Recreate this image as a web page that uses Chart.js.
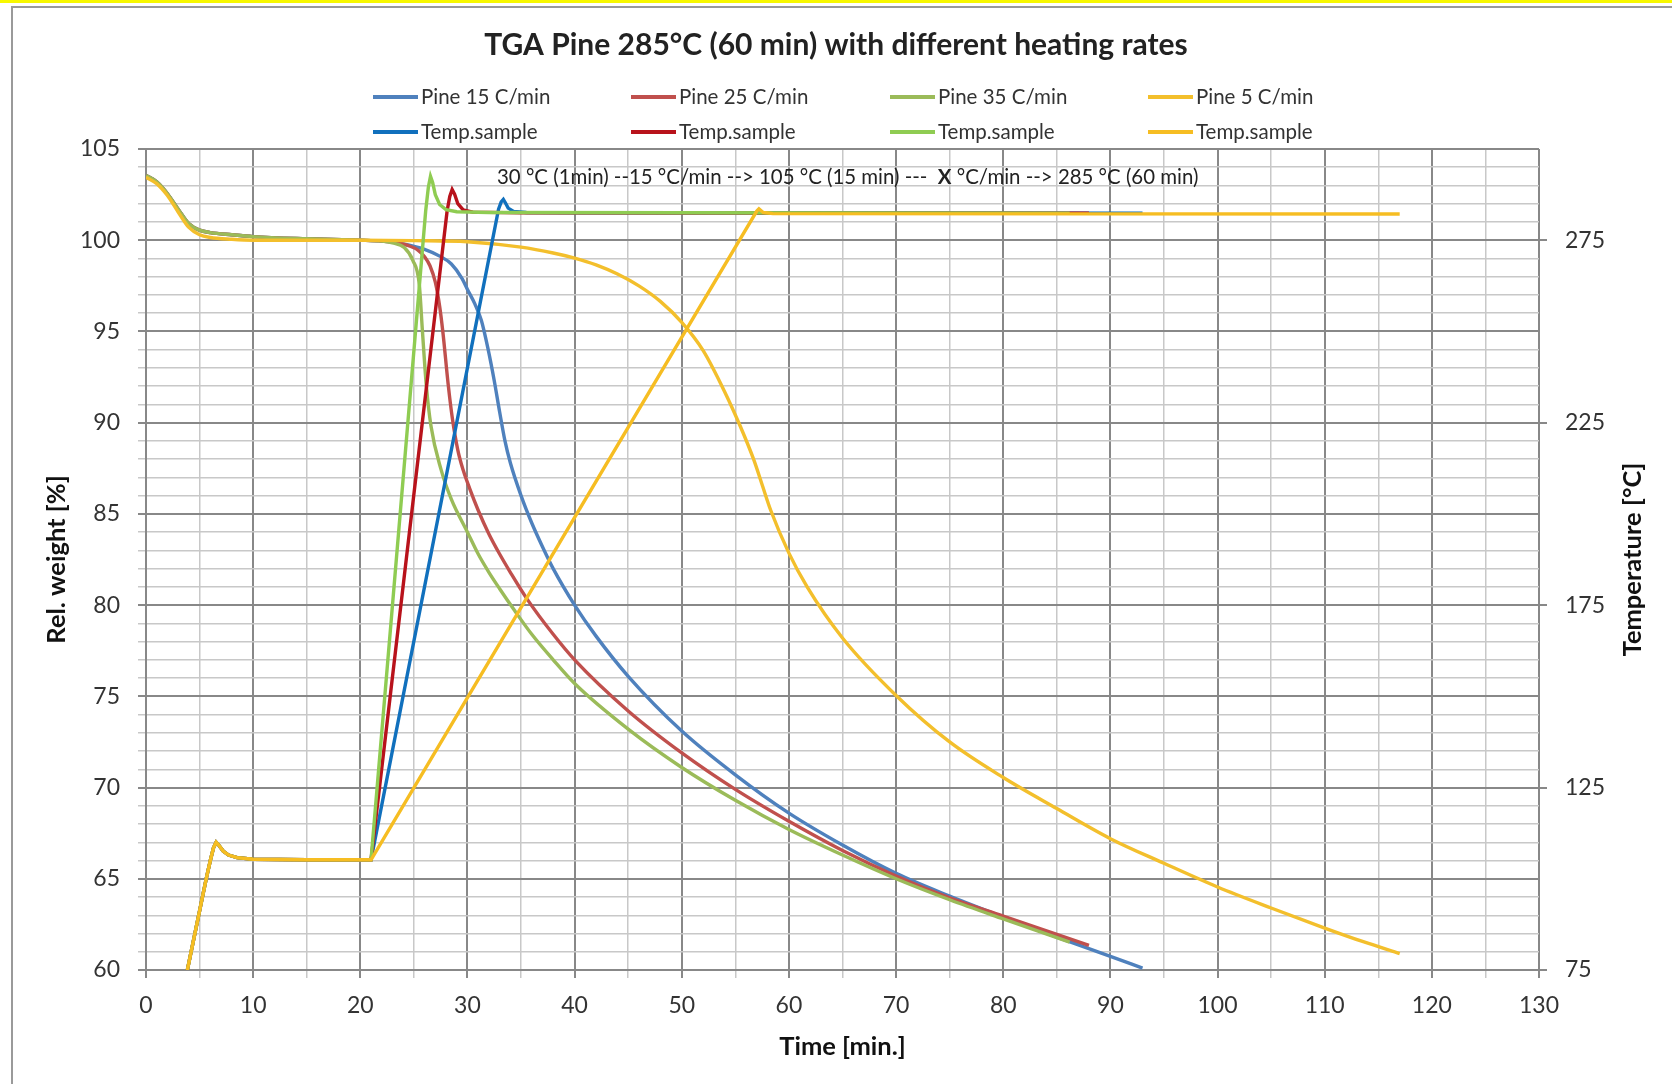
<!DOCTYPE html>
<html>
<head>
<meta charset="utf-8">
<title>TGA Pine 285°C (60 min) with different heating rates</title>
<script src="https://cdn.jsdelivr.net/npm/chart.js@4.4.1/dist/chart.umd.min.js"></script>
<style>
    html, body { margin: 0; padding: 0; background: #fff; }
    body { width: 1672px; height: 1084px; position: relative; overflow: hidden; }
    #topband { position: absolute; left: 0; top: 0; width: 1672px; height: 3px; background: #f8f800; }
    #frame { position: absolute; left: 11px; top: 6px; width: 1700px; height: 1200px; border: 2px solid #9a9a9a; box-sizing: border-box; }
    #chart { position: absolute; left: 0; top: 0; }
</style>
</head>
<body>
<div id="topband"></div>
<div id="frame"></div>
<canvas id="chart" width="1672" height="1084"></canvas>
<script>
// --- data (time in min, weight in %, temperature in °C) ---
const pine15Time = [0, 1, 2, 3, 4, 5, 6, 8, 10, 15, 20, 22, 24, 26, 27.5, 28.5, 29.5, 30, 30.7, 31.3, 31.9, 32.5, 33, 33.5, 34, 35, 36, 37, 38, 40, 42, 45, 50, 55, 60, 65, 70, 75, 80, 85, 90, 93];
const pine15Weight = [103.55, 103.2, 102.55, 101.7, 100.9, 100.55, 100.42, 100.3, 100.2, 100.08, 100, 99.95, 99.8, 99.5, 99.1, 98.7, 97.9, 97.3, 96.5, 95.6, 94.1, 92.3, 90.6, 89, 87.8, 86, 84.5, 83.2, 82, 80, 78.3, 76.1, 73.1, 70.7, 68.6, 66.85, 65.3, 64.05, 62.9, 61.8, 60.75, 60.1];

const pine25Time = [0, 1, 2, 3, 4, 5, 6, 8, 10, 15, 20, 22, 23.5, 24.5, 25.4, 26, 26.5, 27, 27.4, 27.7, 28.2, 28.6, 29.1, 29.6, 30.2, 31, 32, 33, 34, 35.6, 38, 40, 45, 50, 55, 60, 65, 70, 75, 80, 85, 88];
const pine25Weight = [103.55, 103.2, 102.55, 101.7, 100.9, 100.55, 100.42, 100.3, 100.2, 100.08, 100, 99.95, 99.85, 99.7, 99.45, 99.1, 98.6, 97.7, 96.4, 95, 92.1, 90.2, 88.5, 87.4, 86.4, 85.2, 83.9, 82.8, 81.8, 80.3, 78.4, 77, 74.2, 71.9, 69.9, 68.15, 66.55, 65.15, 63.95, 62.95, 61.95, 61.35];

const pine35Time = [0, 1, 2, 3, 4, 5, 6, 8, 10, 15, 20, 22, 23, 24.1, 24.9, 25.5, 25.8, 26.15, 26.6, 27.55, 28.5, 30, 31, 32, 33, 34.4, 36, 38, 40, 45, 50, 55, 60, 65, 70, 75, 80, 86.2];
const pine35Weight = [103.55, 103.2, 102.55, 101.7, 100.9, 100.55, 100.42, 100.3, 100.2, 100.08, 100, 99.95, 99.85, 99.6, 98.9, 97.6, 95, 92.1, 89.8, 87.4, 85.8, 84, 82.8, 81.8, 80.9, 79.7, 78.4, 77, 75.7, 73.2, 71.1, 69.3, 67.7, 66.3, 65, 63.85, 62.8, 61.53];

const pine5Time = [0, 1, 2, 3, 4, 5, 6, 8, 10, 15, 20, 25, 30, 35, 38, 40, 42, 44, 46, 48, 50, 52, 54, 55.5, 56.7, 57.5, 58.3, 60, 61.7, 65, 70, 75, 80, 85, 90, 95, 100, 105, 110, 113.6, 117];
const pine5Weight = [103.45, 103.1, 102.45, 101.55, 100.7, 100.3, 100.15, 100.05, 100, 100, 100, 99.98, 99.92, 99.62, 99.3, 99.02, 98.65, 98.15, 97.5, 96.65, 95.5, 93.95, 91.7, 89.75, 88, 86.6, 85.2, 82.85, 81, 78.2, 75.05, 72.5, 70.55, 68.85, 67.2, 65.85, 64.55, 63.4, 62.3, 61.55, 60.9];

// common start of the temperature program: 30 °C (1 min), 15 °C/min to 105 °C, hold
const tempHoldTime = [0, 1, 3.86, 5.62, 6, 6.3, 6.55, 6.8, 7.2, 7.7, 8.5, 10, 15, 21];
const tempHoldC = [30, 30, 75, 100, 105, 108.5, 110, 109.2, 107.6, 106.5, 105.8, 105.35, 105.2, 105.2];

const temp15Time = [32.9, 33.15, 33.35, 33.55, 33.8, 34.3, 35.5, 40, 93];
const temp15C = [283.5, 285.5, 286.2, 285.2, 283.8, 282.9, 282.6, 282.5, 282.4];
const temp25Time = [28.1, 28.35, 28.57, 28.8, 29.1, 29.6, 30.5, 35, 88];
const temp25C = [283, 287, 288.9, 287.6, 285, 283.3, 282.7, 282.5, 282.4];
const temp35Time = [26.1, 26.35, 26.55, 26.75, 27, 27.4, 28, 29, 32, 86.2];
const temp35C = [283, 289.5, 292.5, 290.8, 287.5, 284.8, 283.4, 282.8, 282.6, 282.4];
const temp5Time = [57, 57.2, 57.6, 58.5, 117];
const temp5C = [283, 283.6, 282.6, 282.3, 282.2];

const tempTicks = [75, 125, 175, 225, 275];

const titleText = 'TGA Pine 285°C (60 min) with different heating rates';
const noteParts = [['30 °C (1min) --15 °C/min --> 105 °C (15 min) ---  ', false], ['X', true], [' °C/min --> 285 °C (60 min)', false]];
const noteAt = [32.76, 103.42];

// --- layout ---
const legendCols = [373, 631, 890, 1148];
const legendRows = [97, 132];
const FONT = 'Lato';
const MAJOR = '#888888';
const MINOR = '#c8c8c8';

const toPoints = (xs, ys) => xs.map((x, i) => ({ x, y: ys[i] }));

const weightSet = (label, xs, ys, color) => ({
    label, data: toPoints(xs, ys), borderColor: color, backgroundColor: color, yAxisID: 'y',
    cubicInterpolationMode: 'monotone'
});
// temperature program: straight ramps, so no spline
const tempSet = (xs, ys, color) => ({
    label: 'Temp.sample',
    data: toPoints(tempHoldTime.concat(xs), tempHoldC.concat(ys)),
    borderColor: color, backgroundColor: color, yAxisID: 'y1',
    tension: 0
});

const datasets = [
    weightSet('Pine 15 C/min', pine15Time, pine15Weight, '#4f81bd'),
    weightSet('Pine 25 C/min', pine25Time, pine25Weight, '#c0504d'),
    weightSet('Pine 35 C/min', pine35Time, pine35Weight, '#9bbb59'),
    weightSet('Pine 5 C/min', pine5Time, pine5Weight, '#f3bf2c'),
    tempSet(temp15Time, temp15C, '#1170bd'),
    tempSet(temp25Time, temp25C, '#b8121b'),
    tempSet(temp35Time, temp35C, '#8fcc52'),
    tempSet(temp5Time, temp5C, '#f6bd22')
];
// excel draws later series on top
datasets.forEach((ds, i) => { ds.order = -i; });

const isMajor = (c, step) => c.tick && Math.abs(c.tick.value % step) < 1e-6;
const gridStyle = (step) => ({
    color: c => (isMajor(c, step) ? MAJOR : MINOR),
    tickColor: c => (isMajor(c, step) ? MAJOR : MINOR),
    lineWidth: c => (isMajor(c, step) ? 2 : 1.5),
    tickLength: 8
});

const tgaDecor = {
    id: 'tgaDecor',
    afterDraw(chart) {
        const { ctx } = chart;
        ctx.save();
        ctx.textBaseline = 'middle';
        ctx.textAlign = 'left';

        // legend, 4 columns x 2 rows like the excel one
        chart.data.datasets.forEach((ds, i) => {
            const x = legendCols[i % 4];
            const y = legendRows[Math.floor(i / 4)];
            ctx.strokeStyle = ds.borderColor;
            ctx.lineWidth = 4;
            ctx.beginPath();
            ctx.moveTo(x, y);
            ctx.lineTo(x + 45, y);
            ctx.stroke();
            ctx.fillStyle = '#333';
            ctx.font = `20.5px ${FONT}`;
            ctx.fillText(ds.label, x + 48, y);
        });

        // program note inside the plot
        let nx = chart.scales.x.getPixelForValue(noteAt[0]);
        const ny = chart.scales.y.getPixelForValue(noteAt[1]);
        noteParts.forEach(([text, bold]) => {
            ctx.font = `${bold ? 'bold ' : ''}20.4px ${FONT}`;
            ctx.fillStyle = '#222';
            ctx.fillText(text, nx, ny);
            nx += ctx.measureText(text).width;
        });

        // right axis title reads bottom-to-top
        const y1 = chart.scales.y1;
        ctx.translate(1633, (y1.top + y1.bottom) / 2);
        ctx.rotate(-Math.PI / 2);
        ctx.textAlign = 'center';
        ctx.font = `bold 25.5px ${FONT}`;
        ctx.fillStyle = '#111';
        ctx.fillText('Temperature [°C]', 0, 0);
        ctx.restore();
    }
};

const draw = () => {
    new Chart(document.getElementById('chart'), {
        type: 'line',
        data: { datasets },
        options: {
            responsive: false,
            animation: false,
            devicePixelRatio: 1,
            layout: { padding: 0 },
            elements: {
                point: { radius: 0 },
                line: { borderWidth: 3.4 }
            },
            plugins: {
                legend: { display: false },
                tooltip: { enabled: false },
                title: {
                    display: true,
                    text: titleText,
                    color: '#222',
                    font: { family: FONT, size: 30, weight: 'bold' },
                    padding: { top: 27, bottom: 86 }
                }
            },
            scales: {
                x: {
                    type: 'linear',
                    min: 0,
                    max: 130,
                    grid: gridStyle(10),
                    border: { color: MAJOR, width: 2 },
                    ticks: {
                        stepSize: 5,
                        autoSkip: false,
                        maxRotation: 0,
                        padding: 14,
                        color: '#333',
                        font: { family: FONT, size: 23 },
                        callback: v => (v % 10 === 0 ? v : '')
                    },
                    title: {
                        display: true,
                        text: 'Time [min.]',
                        color: '#111',
                        font: { family: FONT, size: 25.5, weight: 'bold' },
                        padding: { top: 0, bottom: 21.7 }
                    },
                    afterFit: s => { s.height = 114; }
                },
                y: {
                    type: 'linear',
                    position: 'left',
                    min: 60,
                    max: 105,
                    grid: gridStyle(5),
                    border: { color: MAJOR, width: 2 },
                    ticks: {
                        stepSize: 1,
                        autoSkip: false,
                        padding: 18,
                        color: '#333',
                        font: { family: FONT, size: 23 },
                        callback: v => (v % 5 === 0 ? v : '')
                    },
                    title: {
                        display: true,
                        text: 'Rel. weight [%]',
                        color: '#111',
                        font: { family: FONT, size: 25.5, weight: 'bold' },
                        padding: { top: 41.7, bottom: 0 }
                    },
                    afterFit: s => { s.width = 146; }
                },
                y1: {
                    type: 'linear',
                    position: 'right',
                    min: 75,
                    max: 300,
                    grid: { drawOnChartArea: false, color: MAJOR, tickColor: MAJOR, lineWidth: 2, tickLength: 8 },
                    border: { display: false },
                    ticks: {
                        padding: 18,
                        color: '#333',
                        font: { family: FONT, size: 23 }
                    },
                    afterBuildTicks: s => { s.ticks = tempTicks.map(value => ({ value })); },
                    afterFit: s => { s.width = 133; }
                }
            }
        },
        plugins: [tgaDecor]
    });
};

Promise.all([
    document.fonts.load(`bold 30px ${FONT}`),
    document.fonts.load(`20px ${FONT}`)
]).then(draw, draw);
</script>
</body>
</html>
